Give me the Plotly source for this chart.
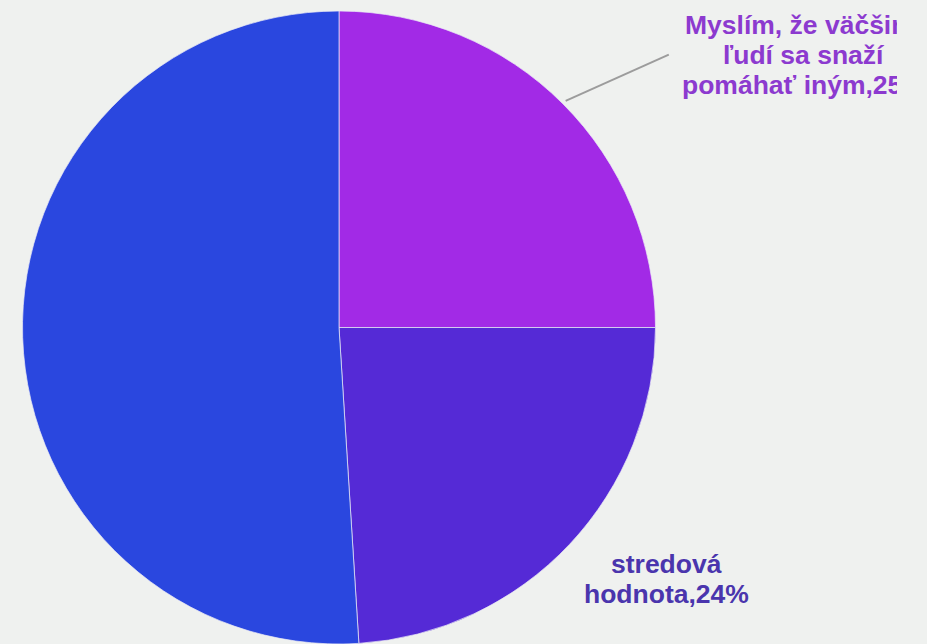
import math
import plotly.graph_objects as go

# ---- data ----
labels = [
    "Myslím, že väčšina ľudí sa snaží pomáhať iným",
    "stredová hodnota",
    "ostatné",
]
values = [25, 24, 51]
label_lines = [
    ["Myslím, že väčšina", "ľudí sa snaží", "pomáhať iným,25%"],
    ["stredová", "hodnota,24%"],
    [],
]

# ---- style ----
W, H = 897, 644          # drawing area (the reference clips its labels at x≈897)
slice_colors = ["#a22ae6", "#552ad6", "#2a47df"]
text_colors = ["#8c3acf", "#4a35ad", "#2a47df"]
bg = "#eff1ef"
font_family = "Liberation Sans, Arial, sans-serif"
font_size = 26.5
line_gap = 30
# pie box in pixels
px_left, px_right, px_top = 22, 656, 11

dom_x = [px_left / W, px_right / W]
dom_y = [0.0, 1 - px_top / H]
cx = (px_left + px_right) / 2
r = min(px_right - px_left, (dom_y[1] - dom_y[0]) * H) / 2
cy = px_top + r

# label offsets relative to the slice mid-point on the rim (pixels)
label_offsets = [(241, -79), (97, 20), None]
leader = [(106, -49), None, None]

def to_paper(x, y):
    return x / W, 1 - y / H

fig = go.Figure(go.Pie(
    labels=labels,
    values=values,
    sort=False,
    direction="clockwise",
    rotation=0,
    marker=dict(colors=slice_colors, line=dict(color="rgba(235,235,245,0.7)", width=1)),
    textinfo="none",
    hoverinfo="label+percent",
    showlegend=False,
    domain=dict(x=dom_x, y=dom_y),
))

total = sum(values)
acc = 0
annotations = []
shapes = []
for i, v in enumerate(values):
    mid = (acc + v / 2) / total * 2 * math.pi
    acc += v
    ex = cx + r * math.sin(mid)
    ey = cy - r * math.cos(mid)
    if leader[i] is not None:
        sx = cx + (r + 4) * math.sin(mid)
        sy = cy - (r + 4) * math.cos(mid)
        x0, y0 = to_paper(sx, sy)
        x1, y1 = to_paper(ex + leader[i][0], ey + leader[i][1])
        shapes.append(dict(type="line", xref="paper", yref="paper",
                           x0=x0, y0=y0, x1=x1, y1=y1,
                           line=dict(color="#9c9c9c", width=2)))
    if label_offsets[i] is None:
        continue
    lx = ex + label_offsets[i][0]
    ly = ey + label_offsets[i][1]
    for k, line in enumerate(label_lines[i]):
        ax, ay = to_paper(lx, ly + k * line_gap)
        annotations.append(dict(
            text=f"<b>{line}</b>", x=ax, y=ay, xref="paper", yref="paper",
            xanchor="center", yanchor="middle", showarrow=False,
            font=dict(family=font_family, size=font_size, color=text_colors[i]),
        ))

fig.update_layout(
    width=W, height=H,
    margin=dict(l=0, r=0, t=0, b=0),
    paper_bgcolor=bg,
    plot_bgcolor=bg,
    annotations=annotations,
    shapes=shapes,
)

page_style = (
    "document.documentElement.style.background='%s';"
    "document.body.style.margin='0';"
    "document.body.style.background='%s';"
    "document.body.style.overflow='hidden';" % (bg, bg)
)
fig.write_html("out.html", post_script=page_style,
               config={"displayModeBar": False})
